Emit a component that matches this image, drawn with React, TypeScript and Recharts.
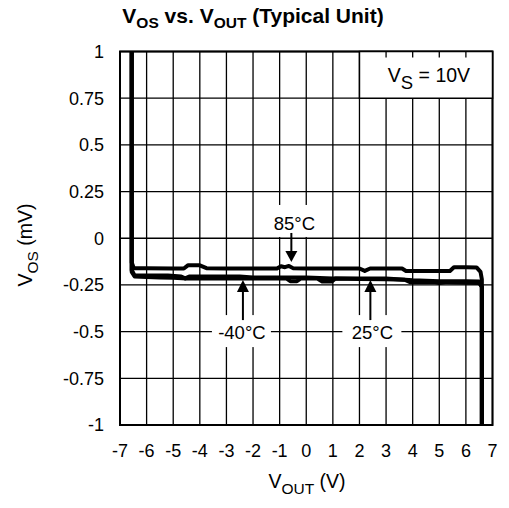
import React from 'react'
import {
  LineChart,
  Line,
  XAxis,
  YAxis,
  CartesianGrid,
  ReferenceArea,
  ReferenceLine,
  ReferenceDot,
  Customized,
} from 'recharts'

// tick positions
const voutTicks = [-7, -6, -5, -4, -3, -2, -1, 0, 1, 2, 3, 4, 5, 6, 7]
const vosTicks = [-1, -0.75, -0.5, -0.25, 0, 0.25, 0.5, 0.75, 1]

// [VOUT (V), VOS (mV)]
const curve85: [number, number][] = [
  [-6.56, 1.0], [-6.56, -0.13], [-6.48, -0.16], [-6, -0.16], [-5, -0.162],
  [-4.6, -0.162], [-4.45, -0.145], [-4.0, -0.145], [-3.75, -0.16], [-3, -0.162],
  [-2, -0.162], [-1.1, -0.162], [-0.95, -0.15], [-0.8, -0.155], [-0.65, -0.148],
  [-0.5, -0.16], [0, -0.162], [1, -0.162], [2, -0.162], [2.2, -0.175],
  [2.4, -0.162], [3, -0.162], [3.6, -0.162], [3.75, -0.175], [4.5, -0.175],
  [5.4, -0.175], [5.55, -0.155], [6.0, -0.155], [6.4, -0.156], [6.55, -0.18],
  [6.6, -0.22], [6.6, -1.0],
]

const curveMinus40: [number, number][] = [
  [-6.56, 1.0], [-6.56, -0.17], [-6.45, -0.2], [-6, -0.2], [-5.2, -0.2],
  [-4.7, -0.205], [-4.55, -0.215], [-4.4, -0.205], [-3.5, -0.205], [-2.5, -0.205],
  [-2, -0.21], [-1, -0.21], [0, -0.21], [1, -0.215], [2, -0.215],
  [3, -0.215], [4, -0.225], [5, -0.23], [6, -0.23], [6.5, -0.232],
  [6.6, -0.26], [6.6, -1.0],
]

const curve25: [number, number][] = [
  [-6.56, 1.0], [-6.56, -0.18], [-6.45, -0.205], [-6, -0.208], [-5.5, -0.21],
  [-5, -0.212], [-4.5, -0.215], [-3.5, -0.215], [-2.5, -0.215], [-1.5, -0.215],
  [-0.75, -0.215], [-0.6, -0.23], [-0.35, -0.23], [-0.2, -0.215], [0.4, -0.215],
  [0.6, -0.232], [0.95, -0.232], [1.1, -0.215], [2, -0.218], [3, -0.22],
  [3.7, -0.222], [3.9, -0.235], [4.8, -0.235], [5, -0.24], [5.3, -0.235],
  [6, -0.238], [6.5, -0.24], [6.6, -0.26], [6.6, -1.0],
]

// arrow tips for the temperature labels
const labels85 = { text: '85°C', x: -0.56, y: -0.127 }
const labelsMinus40 = { text: '-40°C', x: -2.38, y: -0.224 }
const labels25 = { text: '25°C', x: 2.41, y: -0.224 }

const toPoints = (c: [number, number][]) => c.map(([x, y]) => ({ x, y }))

const FONT = 'Liberation Sans, Arial, sans-serif'

function DownArrowLabel(props: any) {
  const { cx, cy, text } = props
  return (
    <g>
      <rect x={cx - 23} y={cy - 57} width={50} height={32} fill="#fff" />
      <line x1={cx} y1={cy - 29} x2={cx} y2={cy - 10} stroke="#000" strokeWidth={2} />
      <polygon points={`${cx},${cy} ${cx - 6},${cy - 11} ${cx + 6},${cy - 11}`} fill="#000" />
      <text x={cx + 3} y={cy - 32} textAnchor="middle" fontSize={18.5} fontFamily={FONT} fill="#000">
        {text}
      </text>
    </g>
  )
}

function UpArrowLabel(props: any) {
  const { cx, cy, text, dx = 0 } = props
  return (
    <g>
      <rect x={cx - 30 + dx} y={cy + 35} width={59} height={32} fill="#fff" />
      <line x1={cx} y1={cy + 11} x2={cx} y2={cy + 40} stroke="#000" strokeWidth={2} />
      <polygon points={`${cx},${cy} ${cx - 6},${cy + 12} ${cx + 6},${cy + 12}`} fill="#000" />
      <text x={cx + dx} y={cy + 59} textAnchor="middle" fontSize={18.5} fontFamily={FONT} fill="#000">
        {text}
      </text>
    </g>
  )
}

function Titles() {
  return (
    <g fontFamily={FONT} fill="#000">
      <text x={253} y={23} textAnchor="middle" fontSize={21} fontWeight="bold">
        <tspan>V</tspan>
        <tspan fontSize={15.5} dy={5}>OS</tspan>
        <tspan dy={-5}> vs. V</tspan>
        <tspan fontSize={15.5} dy={5}>OUT</tspan>
        <tspan dy={-5}> (Typical Unit)</tspan>
      </text>
      <text x={307} y={488} textAnchor="middle" fontSize={19.5}>
        <tspan>V</tspan>
        <tspan fontSize={15.5} dy={6}>OUT</tspan>
        <tspan dy={-6}> (V)</tspan>
      </text>
      <text x={32} y={245} textAnchor="middle" fontSize={19.5} transform="rotate(-90 32 245)">
        <tspan>V</tspan>
        <tspan fontSize={15.5} dy={6}>OS</tspan>
        <tspan dy={-6}> (mV)</tspan>
      </text>
    </g>
  )
}

function VsLabel(props: any) {
  const { viewBox } = props
  const cx = viewBox.x + viewBox.width / 2 + 3
  const cy = viewBox.y + viewBox.height / 2
  return (
    <text x={cx} y={cy + 7} textAnchor="middle" fontSize={19.5} fontFamily={FONT} fill="#000">
      <tspan>V</tspan>
      <tspan fontSize={18.5} dy={7}>S</tspan>
      <tspan dy={-7}> = 10V</tspan>
    </text>
  )
}

export default function App() {
  const tickStyle = { fontSize: 18, fontFamily: FONT, fill: '#000' }
  return (
    <div style={{ width: 509, height: 508, margin: '-8px 0 0 -8px' }}>
      <LineChart width={509} height={508} margin={{ top: 51.5, right: 16.5, bottom: 43, left: 60 }}>
        <CartesianGrid stroke="#000" strokeWidth={1.3} />
        <XAxis
          dataKey="x"
          type="number"
          domain={[-7, 7]}
          ticks={voutTicks}
          interval={0}
          height={40}
          tickSize={0}
          tickMargin={19}
          tick={tickStyle}
          axisLine={{ stroke: '#000', strokeWidth: 2 }}
          allowDuplicatedCategory={true}
        />
        <YAxis
          type="number"
          domain={[-1, 1]}
          ticks={vosTicks}
          interval={0}
          width={60}
          tickSize={0}
          tickMargin={16}
          tick={tickStyle}
          axisLine={{ stroke: '#000', strokeWidth: 2 }}
        />
        <ReferenceArea x1={-7} x2={7} y1={-1} y2={1} fill="none" stroke="#000" strokeWidth={2} />
        <ReferenceArea
          x1={2}
          x2={7}
          y1={0.75}
          y2={1}
          fill="#fff"
          fillOpacity={1}
          stroke="#000"
          strokeWidth={1.5}
          label={<VsLabel />}
        />
        {[3, 4, 5, 6].map((v) => (
          <ReferenceLine
            key={v}
            segment={[{ x: v, y: 1 }, { x: v, y: 0.968 }]}
            stroke="#000"
            strokeWidth={1.3}
          />
        ))}
        <Line data={toPoints(curve85)} dataKey="y" stroke="#000" strokeWidth={4} dot={false}
          strokeLinejoin="round" isAnimationActive={false} />
        <Line data={toPoints(curveMinus40)} dataKey="y" stroke="#000" strokeWidth={4} dot={false}
          strokeLinejoin="round" isAnimationActive={false} />
        <Line data={toPoints(curve25)} dataKey="y" stroke="#000" strokeWidth={4} dot={false}
          strokeLinejoin="round" isAnimationActive={false} />
        <ReferenceDot x={labels85.x} y={labels85.y} r={0}
          shape={(p: any) => <DownArrowLabel {...p} text={labels85.text} />} />
        <ReferenceDot x={labelsMinus40.x} y={labelsMinus40.y} r={0}
          shape={(p: any) => <UpArrowLabel {...p} text={labelsMinus40.text} dx={-1} />} />
        <ReferenceDot x={labels25.x} y={labels25.y} r={0}
          shape={(p: any) => <UpArrowLabel {...p} text={labels25.text} dx={2} />} />
        <Customized component={Titles} />
      </LineChart>
    </div>
  )
}
